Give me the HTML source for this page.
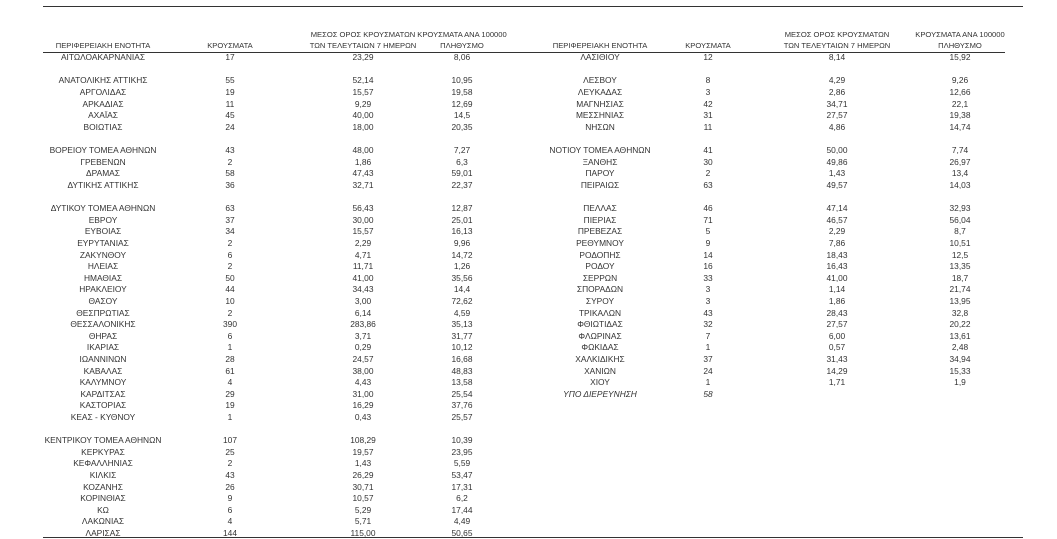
<!DOCTYPE html>
<html><head><meta charset="utf-8"><style>
body{margin:0;width:1057px;height:539px;background:#fff;position:relative;overflow:hidden;font-family:"Liberation Sans","DejaVu Sans",sans-serif;color:#333;font-size:8.4px}
.l{position:absolute;left:0;width:1057px;height:11.6px;line-height:11.6px;margin-top:1px}
.l span{position:absolute;text-align:center;white-space:nowrap}
.a{left:13px;width:180px}.b{left:200px;width:60px}.c{left:313px;width:100px}.d{left:412px;width:100px}
.e{left:510px;width:180px}.f{left:678px;width:60px}.g{left:787px;width:100px}.h{left:910px;width:100px}
.hd{position:absolute;text-align:center;font-size:7.6px;line-height:10.5px;white-space:nowrap}
.ln{position:absolute;height:1px;background:#333}
</style></head><body>
<div class="ln" style="left:43px;top:6px;width:980px"></div>
<div class="ln" style="left:43px;top:52px;width:962px"></div>
<div class="ln" style="left:43px;top:537px;width:980px"></div>

<div class="hd" style="left:13px;width:180px;top:41px">ΠΕΡΙΦΕΡΕΙΑΚΗ ΕΝΟΤΗΤΑ</div>
<div class="hd" style="left:200px;width:60px;top:41px">ΚΡΟΥΣΜΑΤΑ</div>
<div class="hd" style="left:293px;width:140px;top:30px">ΜΕΣΟΣ ΟΡΟΣ ΚΡΟΥΣΜΑΤΩΝ<br>ΤΩΝ ΤΕΛΕΥΤΑΙΩΝ 7 ΗΜΕΡΩΝ</div>
<div class="hd" style="left:407px;width:110px;top:30px">ΚΡΟΥΣΜΑΤΑ ΑΝΑ 100000<br>ΠΛΗΘΥΣΜΟ</div>
<div class="hd" style="left:510px;width:180px;top:41px">ΠΕΡΙΦΕΡΕΙΑΚΗ ΕΝΟΤΗΤΑ</div>
<div class="hd" style="left:678px;width:60px;top:41px">ΚΡΟΥΣΜΑΤΑ</div>
<div class="hd" style="left:767px;width:140px;top:30px">ΜΕΣΟΣ ΟΡΟΣ ΚΡΟΥΣΜΑΤΩΝ<br>ΤΩΝ ΤΕΛΕΥΤΑΙΩΝ 7 ΗΜΕΡΩΝ</div>
<div class="hd" style="left:905px;width:110px;top:30px">ΚΡΟΥΣΜΑΤΑ ΑΝΑ 100000<br>ΠΛΗΘΥΣΜΟ</div>

<div class="l" style="top:51.2px"><span class="a">ΑΙΤΩΛΟΑΚΑΡΝΑΝΙΑΣ</span><span class="b">17</span><span class="c">23,29</span><span class="d">8,06</span><span class="e">ΛΑΣΙΘΙΟΥ</span><span class="f">12</span><span class="g">8,14</span><span class="h">15,92</span></div>
<div class="l" style="top:74.4px"><span class="a">ΑΝΑΤΟΛΙΚΗΣ ΑΤΤΙΚΗΣ</span><span class="b">55</span><span class="c">52,14</span><span class="d">10,95</span><span class="e">ΛΕΣΒΟΥ</span><span class="f">8</span><span class="g">4,29</span><span class="h">9,26</span></div>
<div class="l" style="top:86.0px"><span class="a">ΑΡΓΟΛΙΔΑΣ</span><span class="b">19</span><span class="c">15,57</span><span class="d">19,58</span><span class="e">ΛΕΥΚΑΔΑΣ</span><span class="f">3</span><span class="g">2,86</span><span class="h">12,66</span></div>
<div class="l" style="top:97.6px"><span class="a">ΑΡΚΑΔΙΑΣ</span><span class="b">11</span><span class="c">9,29</span><span class="d">12,69</span><span class="e">ΜΑΓΝΗΣΙΑΣ</span><span class="f">42</span><span class="g">34,71</span><span class="h">22,1</span></div>
<div class="l" style="top:109.2px"><span class="a">ΑΧΑΪΑΣ</span><span class="b">45</span><span class="c">40,00</span><span class="d">14,5</span><span class="e">ΜΕΣΣΗΝΙΑΣ</span><span class="f">31</span><span class="g">27,57</span><span class="h">19,38</span></div>
<div class="l" style="top:120.8px"><span class="a">ΒΟΙΩΤΙΑΣ</span><span class="b">24</span><span class="c">18,00</span><span class="d">20,35</span><span class="e">ΝΗΣΩΝ</span><span class="f">11</span><span class="g">4,86</span><span class="h">14,74</span></div>
<div class="l" style="top:144.1px"><span class="a">ΒΟΡΕΙΟΥ ΤΟΜΕΑ ΑΘΗΝΩΝ</span><span class="b">43</span><span class="c">48,00</span><span class="d">7,27</span><span class="e">ΝΟΤΙΟΥ ΤΟΜΕΑ ΑΘΗΝΩΝ</span><span class="f">41</span><span class="g">50,00</span><span class="h">7,74</span></div>
<div class="l" style="top:155.7px"><span class="a">ΓΡΕΒΕΝΩΝ</span><span class="b">2</span><span class="c">1,86</span><span class="d">6,3</span><span class="e">ΞΑΝΘΗΣ</span><span class="f">30</span><span class="g">49,86</span><span class="h">26,97</span></div>
<div class="l" style="top:167.3px"><span class="a">ΔΡΑΜΑΣ</span><span class="b">58</span><span class="c">47,43</span><span class="d">59,01</span><span class="e">ΠΑΡΟΥ</span><span class="f">2</span><span class="g">1,43</span><span class="h">13,4</span></div>
<div class="l" style="top:178.9px"><span class="a">ΔΥΤΙΚΗΣ ΑΤΤΙΚΗΣ</span><span class="b">36</span><span class="c">32,71</span><span class="d">22,37</span><span class="e">ΠΕΙΡΑΙΩΣ</span><span class="f">63</span><span class="g">49,57</span><span class="h">14,03</span></div>
<div class="l" style="top:202.1px"><span class="a">ΔΥΤΙΚΟΥ ΤΟΜΕΑ ΑΘΗΝΩΝ</span><span class="b">63</span><span class="c">56,43</span><span class="d">12,87</span><span class="e">ΠΕΛΛΑΣ</span><span class="f">46</span><span class="g">47,14</span><span class="h">32,93</span></div>
<div class="l" style="top:213.7px"><span class="a">ΕΒΡΟΥ</span><span class="b">37</span><span class="c">30,00</span><span class="d">25,01</span><span class="e">ΠΙΕΡΙΑΣ</span><span class="f">71</span><span class="g">46,57</span><span class="h">56,04</span></div>
<div class="l" style="top:225.3px"><span class="a">ΕΥΒΟΙΑΣ</span><span class="b">34</span><span class="c">15,57</span><span class="d">16,13</span><span class="e">ΠΡΕΒΕΖΑΣ</span><span class="f">5</span><span class="g">2,29</span><span class="h">8,7</span></div>
<div class="l" style="top:236.9px"><span class="a">ΕΥΡΥΤΑΝΙΑΣ</span><span class="b">2</span><span class="c">2,29</span><span class="d">9,96</span><span class="e">ΡΕΘΥΜΝΟΥ</span><span class="f">9</span><span class="g">7,86</span><span class="h">10,51</span></div>
<div class="l" style="top:248.5px"><span class="a">ΖΑΚΥΝΘΟΥ</span><span class="b">6</span><span class="c">4,71</span><span class="d">14,72</span><span class="e">ΡΟΔΟΠΗΣ</span><span class="f">14</span><span class="g">18,43</span><span class="h">12,5</span></div>
<div class="l" style="top:260.1px"><span class="a">ΗΛΕΙΑΣ</span><span class="b">2</span><span class="c">11,71</span><span class="d">1,26</span><span class="e">ΡΟΔΟΥ</span><span class="f">16</span><span class="g">16,43</span><span class="h">13,35</span></div>
<div class="l" style="top:271.7px"><span class="a">ΗΜΑΘΙΑΣ</span><span class="b">50</span><span class="c">41,00</span><span class="d">35,56</span><span class="e">ΣΕΡΡΩΝ</span><span class="f">33</span><span class="g">41,00</span><span class="h">18,7</span></div>
<div class="l" style="top:283.3px"><span class="a">ΗΡΑΚΛΕΙΟΥ</span><span class="b">44</span><span class="c">34,43</span><span class="d">14,4</span><span class="e">ΣΠΟΡΑΔΩΝ</span><span class="f">3</span><span class="g">1,14</span><span class="h">21,74</span></div>
<div class="l" style="top:294.9px"><span class="a">ΘΑΣΟΥ</span><span class="b">10</span><span class="c">3,00</span><span class="d">72,62</span><span class="e">ΣΥΡΟΥ</span><span class="f">3</span><span class="g">1,86</span><span class="h">13,95</span></div>
<div class="l" style="top:306.5px"><span class="a">ΘΕΣΠΡΩΤΙΑΣ</span><span class="b">2</span><span class="c">6,14</span><span class="d">4,59</span><span class="e">ΤΡΙΚΑΛΩΝ</span><span class="f">43</span><span class="g">28,43</span><span class="h">32,8</span></div>
<div class="l" style="top:318.1px"><span class="a">ΘΕΣΣΑΛΟΝΙΚΗΣ</span><span class="b">390</span><span class="c">283,86</span><span class="d">35,13</span><span class="e">ΦΘΙΩΤΙΔΑΣ</span><span class="f">32</span><span class="g">27,57</span><span class="h">20,22</span></div>
<div class="l" style="top:329.7px"><span class="a">ΘΗΡΑΣ</span><span class="b">6</span><span class="c">3,71</span><span class="d">31,77</span><span class="e">ΦΛΩΡΙΝΑΣ</span><span class="f">7</span><span class="g">6,00</span><span class="h">13,61</span></div>
<div class="l" style="top:341.3px"><span class="a">ΙΚΑΡΙΑΣ</span><span class="b">1</span><span class="c">0,29</span><span class="d">10,12</span><span class="e">ΦΩΚΙΔΑΣ</span><span class="f">1</span><span class="g">0,57</span><span class="h">2,48</span></div>
<div class="l" style="top:352.9px"><span class="a">ΙΩΑΝΝΙΝΩΝ</span><span class="b">28</span><span class="c">24,57</span><span class="d">16,68</span><span class="e">ΧΑΛΚΙΔΙΚΗΣ</span><span class="f">37</span><span class="g">31,43</span><span class="h">34,94</span></div>
<div class="l" style="top:364.5px"><span class="a">ΚΑΒΑΛΑΣ</span><span class="b">61</span><span class="c">38,00</span><span class="d">48,83</span><span class="e">ΧΑΝΙΩΝ</span><span class="f">24</span><span class="g">14,29</span><span class="h">15,33</span></div>
<div class="l" style="top:376.1px"><span class="a">ΚΑΛΥΜΝΟΥ</span><span class="b">4</span><span class="c">4,43</span><span class="d">13,58</span><span class="e">ΧΙΟΥ</span><span class="f">1</span><span class="g">1,71</span><span class="h">1,9</span></div>
<div class="l" style="top:387.7px"><span class="a">ΚΑΡΔΙΤΣΑΣ</span><span class="b">29</span><span class="c">31,00</span><span class="d">25,54</span><span class="e" style="font-style:italic">ΥΠΟ ΔΙΕΡΕΥΝΗΣΗ</span><span class="f" style="font-style:italic">58</span></div>
<div class="l" style="top:399.3px"><span class="a">ΚΑΣΤΟΡΙΑΣ</span><span class="b">19</span><span class="c">16,29</span><span class="d">37,76</span></div>
<div class="l" style="top:410.9px"><span class="a">ΚΕΑΣ - ΚΥΘΝΟΥ</span><span class="b">1</span><span class="c">0,43</span><span class="d">25,57</span></div>
<div class="l" style="top:434.1px"><span class="a">ΚΕΝΤΡΙΚΟΥ ΤΟΜΕΑ ΑΘΗΝΩΝ</span><span class="b">107</span><span class="c">108,29</span><span class="d">10,39</span></div>
<div class="l" style="top:445.7px"><span class="a">ΚΕΡΚΥΡΑΣ</span><span class="b">25</span><span class="c">19,57</span><span class="d">23,95</span></div>
<div class="l" style="top:457.3px"><span class="a">ΚΕΦΑΛΛΗΝΙΑΣ</span><span class="b">2</span><span class="c">1,43</span><span class="d">5,59</span></div>
<div class="l" style="top:468.9px"><span class="a">ΚΙΛΚΙΣ</span><span class="b">43</span><span class="c">26,29</span><span class="d">53,47</span></div>
<div class="l" style="top:480.5px"><span class="a">ΚΟΖΑΝΗΣ</span><span class="b">26</span><span class="c">30,71</span><span class="d">17,31</span></div>
<div class="l" style="top:492.1px"><span class="a">ΚΟΡΙΝΘΙΑΣ</span><span class="b">9</span><span class="c">10,57</span><span class="d">6,2</span></div>
<div class="l" style="top:503.7px"><span class="a">ΚΩ</span><span class="b">6</span><span class="c">5,29</span><span class="d">17,44</span></div>
<div class="l" style="top:515.3px"><span class="a">ΛΑΚΩΝΙΑΣ</span><span class="b">4</span><span class="c">5,71</span><span class="d">4,49</span></div>
<div class="l" style="top:526.9px"><span class="a">ΛΑΡΙΣΑΣ</span><span class="b">144</span><span class="c">115,00</span><span class="d">50,65</span></div>
</body></html>
